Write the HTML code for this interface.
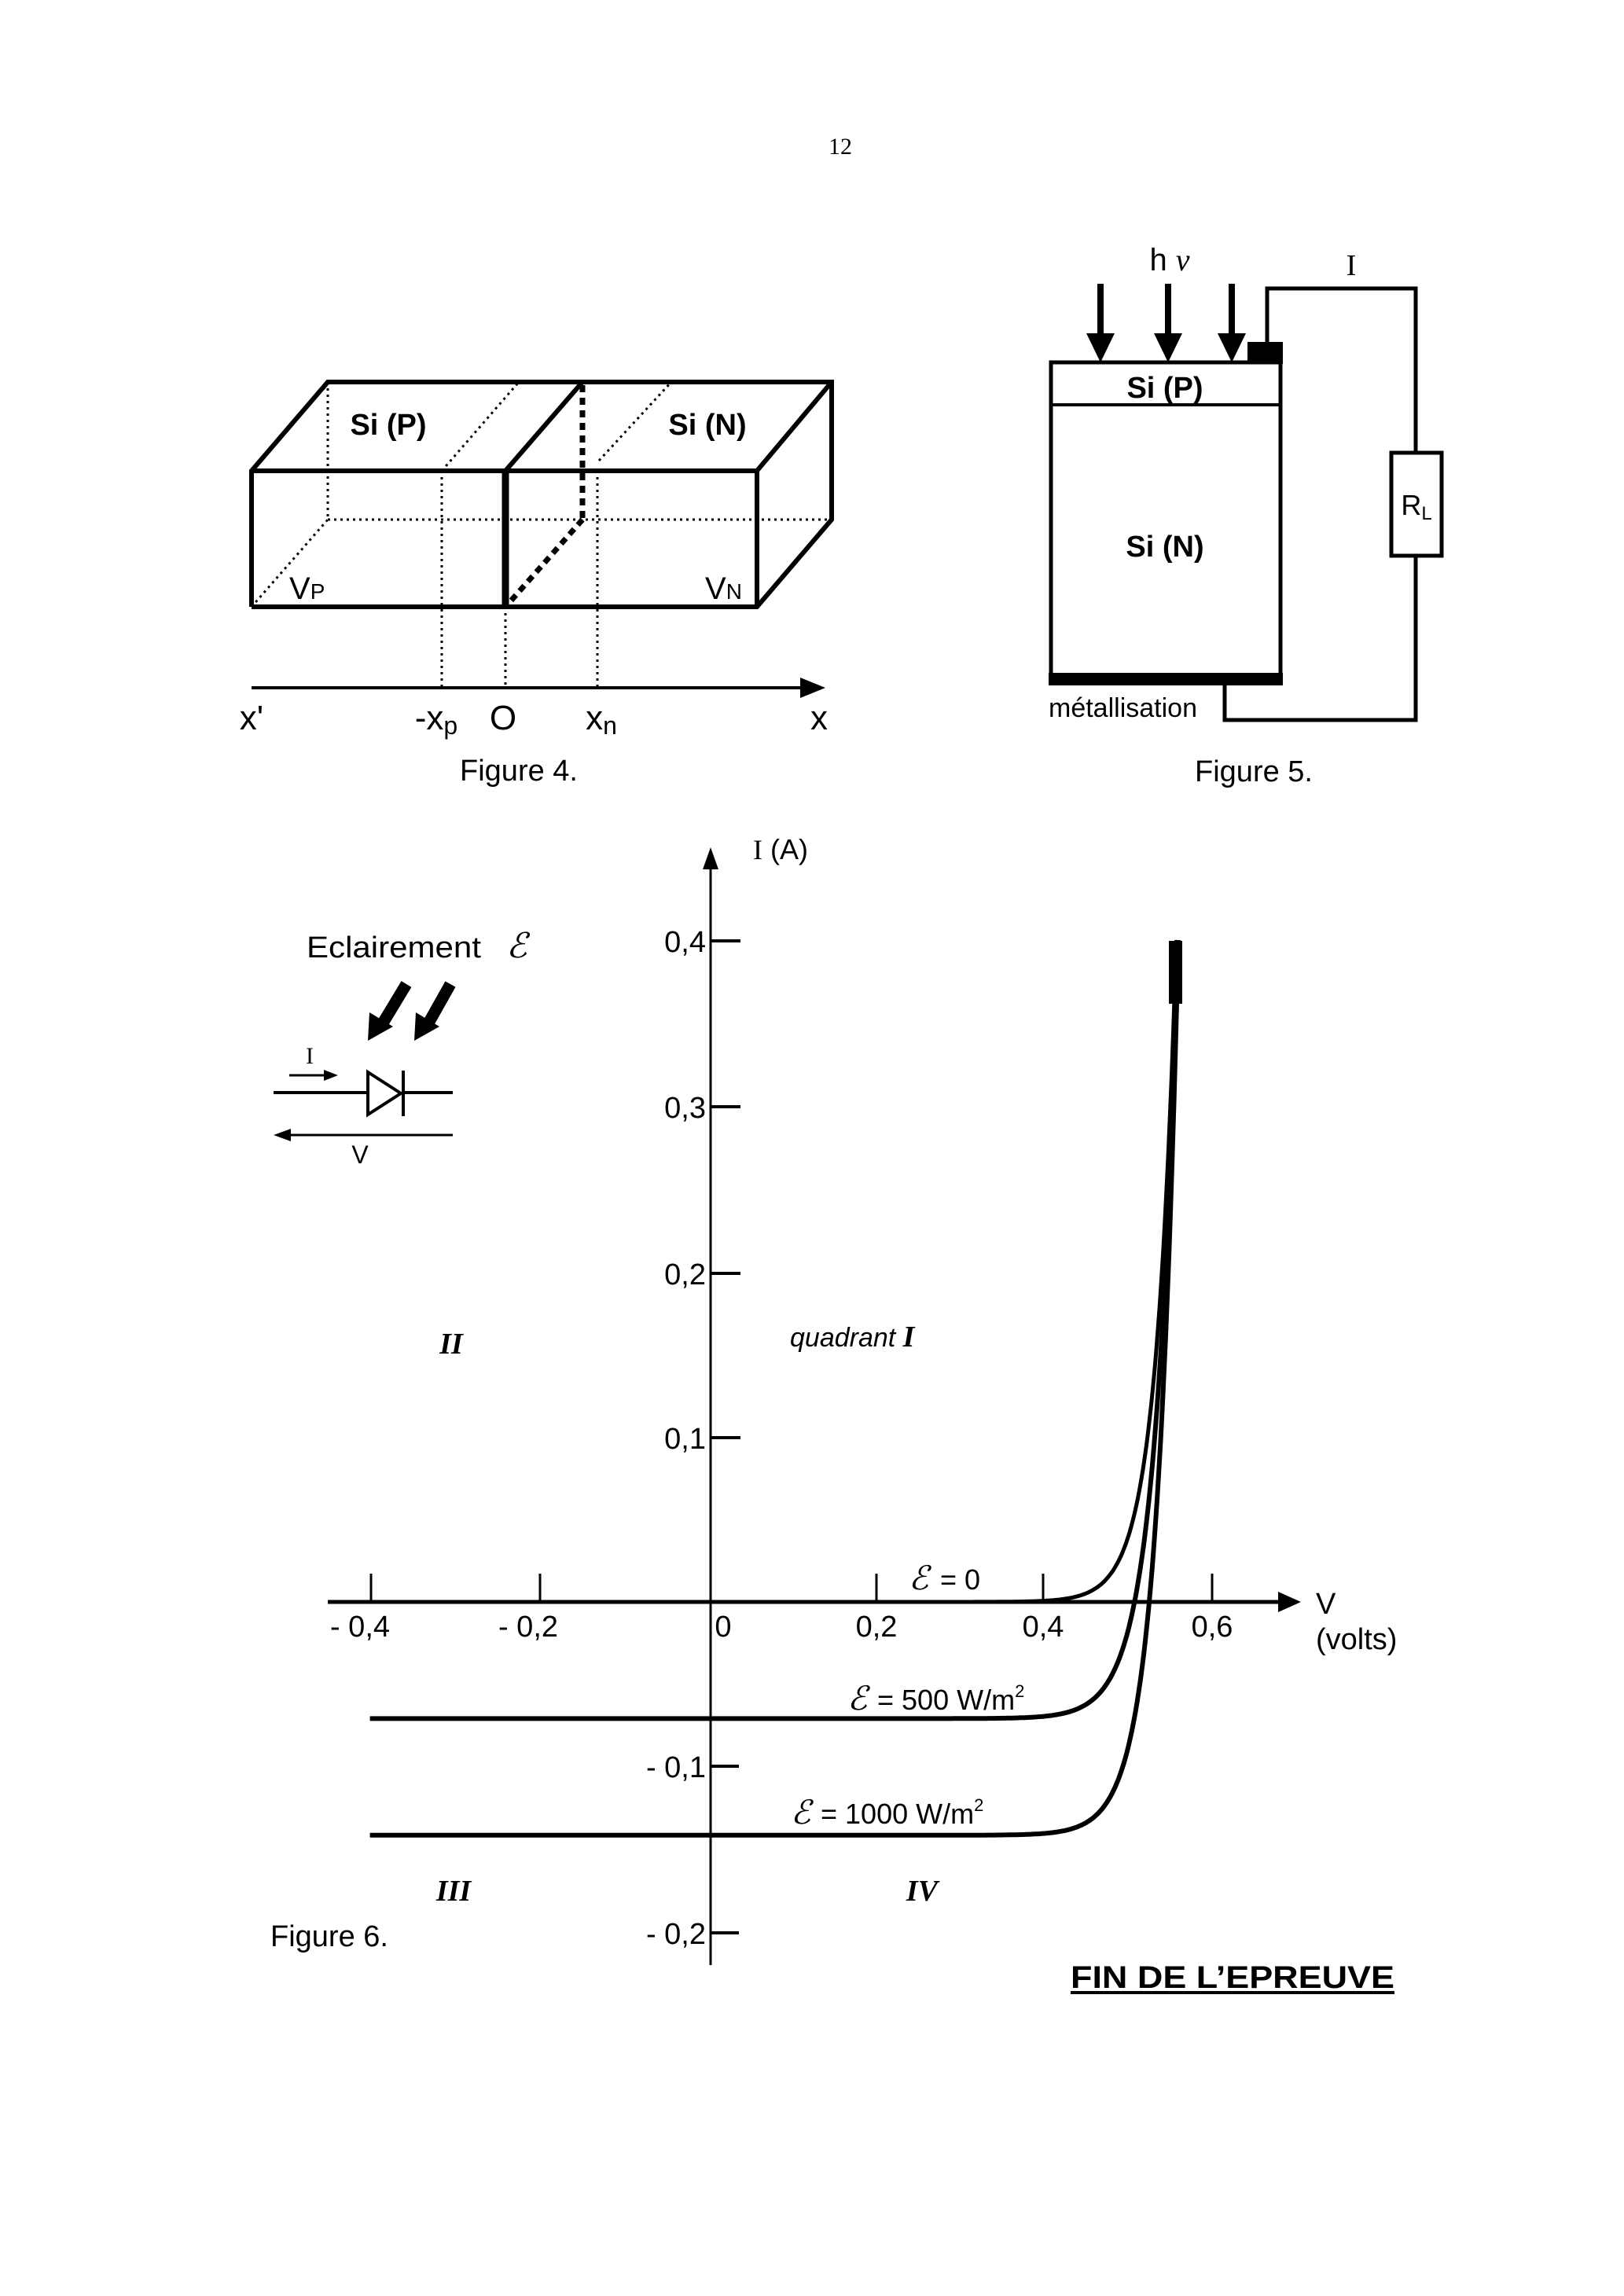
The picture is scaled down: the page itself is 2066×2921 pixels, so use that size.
<!DOCTYPE html>
<html><head><meta charset="utf-8">
<style>
html,body{margin:0;padding:0;background:#fff;}
svg{display:block;}
text{font-family:"Liberation Sans",sans-serif;fill:#000;}
.n{font-family:"Liberation Sans Narrow","Liberation Sans",sans-serif;}
.s{font-family:"Liberation Serif",serif;}
</style></head>
<body>
<svg width="2066" height="2921" viewBox="0 0 2066 2921" xmlns="http://www.w3.org/2000/svg">
<text x="1069" y="196" class="s" font-size="30" text-anchor="middle">12</text>

<!-- Figure 4 -->
<g fill="none" stroke="#000">
  <g stroke-width="3" stroke-dasharray="3,5">
    <line x1="417" y1="486" x2="417" y2="661"/>
    <line x1="417" y1="661" x2="1058" y2="661"/>
    <line x1="320" y1="772" x2="417" y2="661"/>
    <line x1="562" y1="599" x2="660" y2="486"/>
    <line x1="562" y1="599" x2="562" y2="875"/>
    <line x1="643" y1="772" x2="643" y2="875"/>
    <line x1="762" y1="586" x2="854" y2="486"/>
    <line x1="760" y1="599" x2="760" y2="875"/>
  </g>
  <g stroke-width="7" stroke-dasharray="9,7">
    <line x1="741" y1="490" x2="741" y2="661"/>
    <line x1="741" y1="661" x2="645" y2="770"/>
  </g>
  <g stroke-width="6" stroke-linejoin="miter">
    <polyline points="320,772 320,599 417,486 1058,486 1058,661 963,772 320,772"/>
    <line x1="320" y1="599" x2="963" y2="599"/>
    <polyline points="963,772 963,599 1058,486"/>
    <line x1="643" y1="599" x2="741" y2="486"/>
  </g>
  <line x1="643" y1="599" x2="643" y2="772" stroke-width="9"/>
  <line x1="320" y1="875" x2="1030" y2="875" stroke-width="4"/>
</g>
<polygon points="1050,875 1018,862 1018,888" fill="#000"/>
<text x="494" y="553" font-size="38" font-weight="bold" text-anchor="middle">Si (P)</text>
<text x="900" y="553" font-size="38" font-weight="bold" text-anchor="middle">Si (N)</text>
<text x="368" y="762" font-size="40">V<tspan font-size="28">P</tspan></text>
<text x="897" y="762" font-size="40">V<tspan font-size="28">N</tspan></text>
<text x="320" y="928" font-size="44" text-anchor="middle">x'</text>
<text x="555" y="928" font-size="44" text-anchor="middle">-x<tspan font-size="32" dy="6">p</tspan></text>
<text x="640" y="928" font-size="44" text-anchor="middle">O</text>
<text x="765" y="928" font-size="44" text-anchor="middle">x<tspan font-size="32" dy="6">n</tspan></text>
<text x="1042" y="928" font-size="44" text-anchor="middle">x</text>
<text x="660" y="993" font-size="38" text-anchor="middle">Figure 4.</text>

<!-- Figure 5 -->
<g fill="none" stroke="#000" stroke-width="5">
  <rect x="1337" y="461" width="292" height="399"/>
  <line x1="1337" y1="515" x2="1629" y2="515" stroke-width="4"/>
  <polyline points="1612,437 1612,367 1801,367 1801,576"/>
  <rect x="1770" y="576" width="64" height="131"/>
  <polyline points="1801,707 1801,916 1558,916 1558,868"/>
</g>
<rect x="1334" y="856" width="298" height="16" fill="#000"/>
<rect x="1587" y="435" width="45" height="28" fill="#000"/>
<g fill="#000">
  <rect x="1396" y="361" width="8" height="68"/><polygon points="1382,424 1418,424 1400,461"/>
  <rect x="1482" y="361" width="8" height="68"/><polygon points="1468,424 1504,424 1486,461"/>
  <rect x="1563" y="361" width="8" height="68"/><polygon points="1549,424 1585,424 1567,461"/>
</g>
<text x="1488" y="344" font-size="40" text-anchor="middle">h <tspan class="s" font-style="italic">ν</tspan></text>
<text x="1719" y="350" class="s" font-size="38" text-anchor="middle">I</text>
<text x="1482" y="506" font-size="38" font-weight="bold" text-anchor="middle">Si (P)</text>
<text x="1482" y="708" font-size="38" font-weight="bold" text-anchor="middle">Si (N)</text>
<text x="1334" y="912" font-size="34">métallisation</text>
<text x="1802" y="655" font-size="36" text-anchor="middle">R<tspan font-size="24" dy="6">L</tspan></text>
<text x="1595" y="994" font-size="38" text-anchor="middle">Figure 5.</text>

<!-- Figure 6 legend -->
<text x="390" y="1218" font-size="38" class="n" textLength="222" lengthAdjust="spacingAndGlyphs">Eclairement</text>
<text x="644" y="1218" class="s" font-style="italic" font-size="44">ℰ</text>
<g stroke="#000" stroke-width="15" fill="none"><line x1="517" y1="1252" x2="488" y2="1300"/><line x1="573" y1="1252" x2="546" y2="1300"/></g>
<polygon points="468,1324 470,1288 500,1306" fill="#000"/>
<polygon points="527,1324 529,1288 559,1306" fill="#000"/>
<g stroke="#000" fill="none" stroke-width="4">
  <line x1="348" y1="1390" x2="468" y2="1390"/><line x1="512" y1="1390" x2="576" y2="1390"/>
  <polygon points="468,1364 468,1418 510,1391"/>
  <line x1="513" y1="1362" x2="513" y2="1420"/>
  <line x1="368" y1="1368" x2="420" y2="1368" stroke-width="3"/>
  <line x1="362" y1="1444" x2="576" y2="1444" stroke-width="3"/>
</g>
<polygon points="430,1368 412,1361 412,1375" fill="#000"/>
<polygon points="348,1444 370,1436 370,1452" fill="#000"/>
<text x="394" y="1353" class="s" font-size="30" text-anchor="middle">I</text>
<text x="458" y="1480" font-size="32" text-anchor="middle">V</text>

<!-- axes -->
<g stroke="#000" fill="none">
  <line x1="904" y1="1100" x2="904" y2="2500" stroke-width="3"/>
  <line x1="417" y1="2038" x2="1630" y2="2038" stroke-width="5"/>
  <g stroke-width="4">
    <line x1="904" y1="1197" x2="942" y2="1197"/>
    <line x1="904" y1="1408" x2="942" y2="1408"/>
    <line x1="904" y1="1620" x2="942" y2="1620"/>
    <line x1="904" y1="1829" x2="942" y2="1829"/>
    <line x1="904" y1="2247" x2="940" y2="2247"/>
    <line x1="904" y1="2459" x2="940" y2="2459"/>
  </g>
  <g stroke-width="3">
    <line x1="472" y1="2002" x2="472" y2="2038"/>
    <line x1="687" y1="2002" x2="687" y2="2038"/>
    <line x1="1115" y1="2002" x2="1115" y2="2038"/>
    <line x1="1327" y1="2002" x2="1327" y2="2038"/>
    <line x1="1542" y1="2002" x2="1542" y2="2038"/>
  </g>
</g>
<polygon points="904,1078 894,1106 914,1106" fill="#000"/>
<polygon points="1655,2038 1626,2025 1626,2051" fill="#000"/>
<text x="958" y="1093" class="n" font-size="36"><tspan class="s">I</tspan>  (A)</text>
<g class="n" font-size="38" text-anchor="end">
  <text x="898" y="1211">0,4</text>
  <text x="898" y="1422">0,3</text>
  <text x="898" y="1634">0,2</text>
  <text x="898" y="1843">0,1</text>
  <text x="898" y="2261">- 0,1</text>
  <text x="898" y="2473">- 0,2</text>
</g>
<g class="n" font-size="38" text-anchor="middle">
  <text x="458" y="2082">- 0,4</text>
  <text x="672" y="2082">- 0,2</text>
  <text x="920" y="2082">0</text>
  <text x="1115" y="2082">0,2</text>
  <text x="1327" y="2082">0,4</text>
  <text x="1542" y="2082">0,6</text>
</g>
<text x="1674" y="2053" class="n" font-size="38">V</text>
<text x="1674" y="2098" class="n" font-size="38">(volts)</text>

<path id="c0" fill="none" stroke="#000" stroke-width="5"/>
<path id="c1" fill="none" stroke="#000" stroke-width="6"/>
<path id="c2" fill="none" stroke="#000" stroke-width="6"/>
<rect x="1487" y="1197" width="17" height="80" fill="#000"/>

<text x="1156" y="2022" class="s" font-style="italic" font-size="42">ℰ</text>
<text x="1196" y="2022" class="n" font-size="36">= 0</text>
<text x="1078" y="2175" class="s" font-style="italic" font-size="42">ℰ</text>
<text x="1116" y="2175" class="n" font-size="36">= 500 W/m<tspan font-size="22" dy="-16">2</tspan></text>
<text x="1006" y="2320" class="s" font-style="italic" font-size="42">ℰ</text>
<text x="1044" y="2320" class="n" font-size="36">= 1000 W/m<tspan font-size="22" dy="-16">2</tspan></text>

<text x="574" y="1722" class="s" font-style="italic" font-weight="bold" font-size="38" text-anchor="middle">II</text>
<text x="1005" y="1713" class="n" font-style="italic" font-size="34">quadrant <tspan class="s" font-weight="bold" font-size="38">I</tspan></text>
<text x="577" y="2418" class="s" font-style="italic" font-weight="bold" font-size="38" text-anchor="middle">III</text>
<text x="1173" y="2418" class="s" font-style="italic" font-weight="bold" font-size="38" text-anchor="middle">IV</text>
<text x="344" y="2476" class="n" font-size="38">Figure 6.</text>
<text x="1362" y="2529" class="n" font-size="40" font-weight="bold" textLength="412" lengthAdjust="spacingAndGlyphs">FIN  DE  L’EPREUVE</text>
<rect x="1362" y="2533" width="412" height="4" fill="#000"/>

<script>
function X(v){return 904+v*1070;}
function Y(i){return 2038-i*2105;}
function mk(id,IL,vx,n,vstart,sub){
  var d="",first=true;
  for(var v=vstart;v<=0.6;v+=0.002){
    var I=IL*Math.exp((v-vx)/n)-sub;
    if(I>0.4){
      var vt=vx+n*Math.log((0.4+sub)/IL);
      d+=" L"+X(vt).toFixed(1)+","+Y(0.4).toFixed(1);break;}
    d+=(first?"M":" L")+X(v).toFixed(1)+","+Y(I).toFixed(1);first=false;
  }
  document.getElementById(id).setAttribute("d",d);
}
mk("c0",0.004,0.44,0.0247,0.30,0);
mk("c1",0.0705,0.504,0.0273,-0.405,0.0705);
mk("c2",0.141,0.5215,0.0257,-0.405,0.141);
</script>
</svg>
</body></html>
